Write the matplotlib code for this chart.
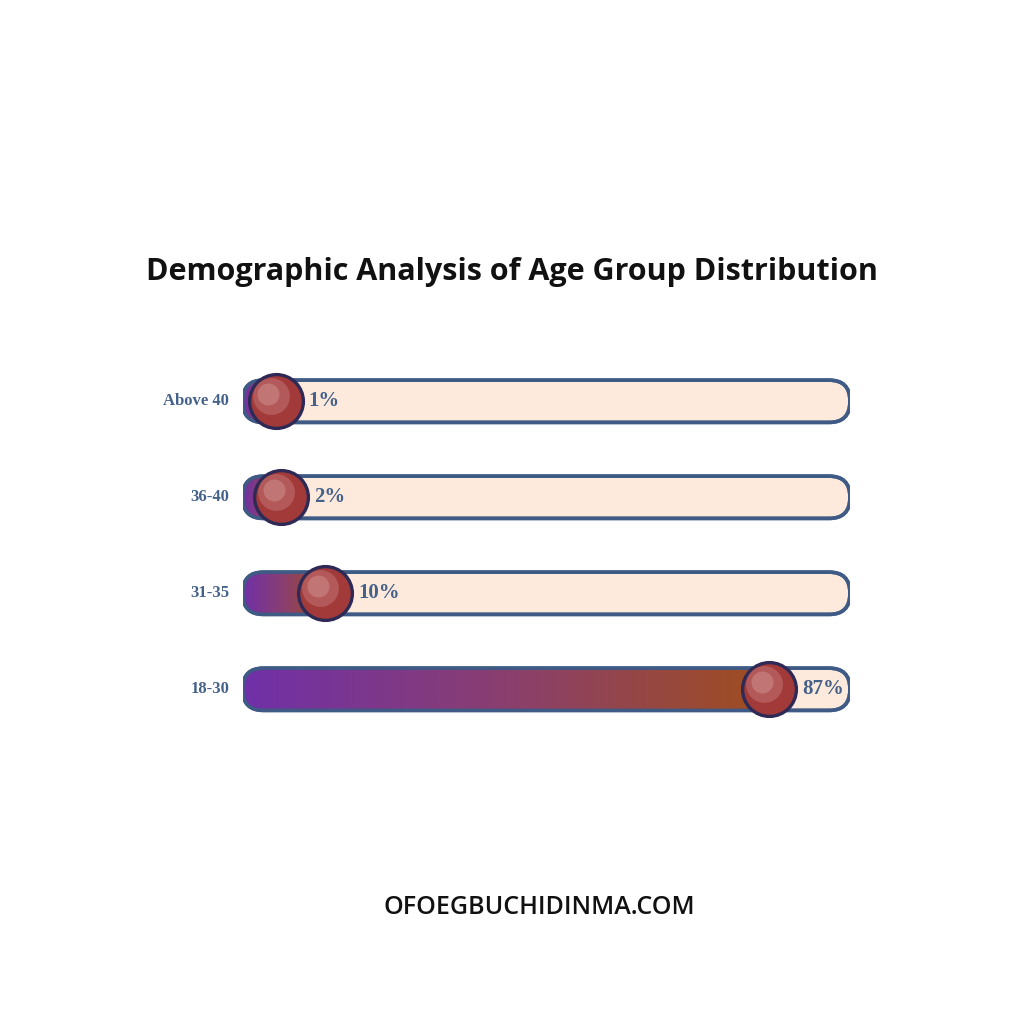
import numpy as np
import matplotlib.pyplot as plt
from matplotlib.patches import FancyBboxPatch
from matplotlib.colors import LinearSegmentedColormap

age_groups = ["18-30", "31-35", "36-40", "Above 40"]
shares = [87, 10, 2, 1]

TRACK = "#fdeadc"
EDGE = "#3e5a85"
LABEL = "#44618a"
KNOB_R = 4.5  # in x-units (percent)

fig = plt.figure(figsize=(10.24, 10.24), dpi=100)
fig.patch.set_facecolor("white")

fig.text(0.5, 0.734, "Demographic Analysis of Age Group Distribution",
         ha="center", va="center", fontsize=22, fontweight="bold",
         family="Open Sans", color="#111111")
fig.text(0.527, 0.114, "OFOEGBUCHIDINMA.COM", ha="center", va="center",
         fontsize=18, fontweight="semibold", family="Open Sans", color="#111111")

ax = fig.add_axes([0.237, 0.280, 0.593, 0.375])
ax.set_xlim(0, 100)
ax.set_ylim(-0.5, 3.5)
ax.axis("off")

px_x = 607 / 100
px_y = 96
aspect = px_x / px_y
h = 0.44
grad_cmap = LinearSegmentedColormap.from_list("g", ["#7030a8", "#8a3f6e", "#a04e1e"])

for i, (grp, v) in enumerate(zip(age_groups, shares)):
    ax.add_patch(FancyBboxPatch((0, i - h / 2), 100, h,
                                boxstyle="round,pad=0,rounding_size=3.4",
                                mutation_aspect=aspect,
                                facecolor=TRACK, edgecolor=EDGE, linewidth=2.6, zorder=1))

    knob_x = KNOB_R + v / 100 * (100 - 2 * KNOB_R) + (3 if v > 50 else 0)
    fill = FancyBboxPatch((0, i - h / 2), knob_x, h,
                          boxstyle="round,pad=0,rounding_size=3.4",
                          mutation_aspect=aspect,
                          facecolor="none", edgecolor="none", zorder=2)
    ax.add_patch(fill)
    grad = np.linspace(0, 1, 256).reshape(1, -1)
    im = ax.imshow(grad, cmap=grad_cmap, aspect="auto",
                   extent=[0, max(knob_x, 0.5), i - h / 2, i + h / 2], zorder=2)
    im.set_clip_path(fill)
    ax.add_patch(FancyBboxPatch((0, i - h / 2), 100, h,
                                boxstyle="round,pad=0,rounding_size=3.4",
                                mutation_aspect=aspect, facecolor="none",
                                edgecolor=EDGE, linewidth=2.6, zorder=3))

    # knob with a soft highlight
    ax.scatter([knob_x], [i], s=1500, color="#a23a3a", edgecolor="#2e2a55",
               linewidth=2.4, zorder=4)
    ax.scatter([knob_x - 0.8], [i + 0.05], s=700, color="#c98080", alpha=0.45,
               linewidth=0, zorder=5)
    ax.scatter([knob_x - 1.2], [i + 0.08], s=250, color="#dba0a0", alpha=0.4,
               linewidth=0, zorder=5)

    ax.text(knob_x + KNOB_R + 0.9, i, f"{v}%", va="center", ha="left",
            fontsize=15, fontweight="bold", family="Liberation Serif",
            color=LABEL, zorder=6)
    ax.text(-2.2, i, grp, va="center", ha="right", fontsize=12,
            fontweight="bold", family="Liberation Serif", color=LABEL)

ax.set_xlim(0, 100)
ax.set_ylim(-0.5, 3.5)
fig.savefig("out.png", dpi=100, facecolor="white")
